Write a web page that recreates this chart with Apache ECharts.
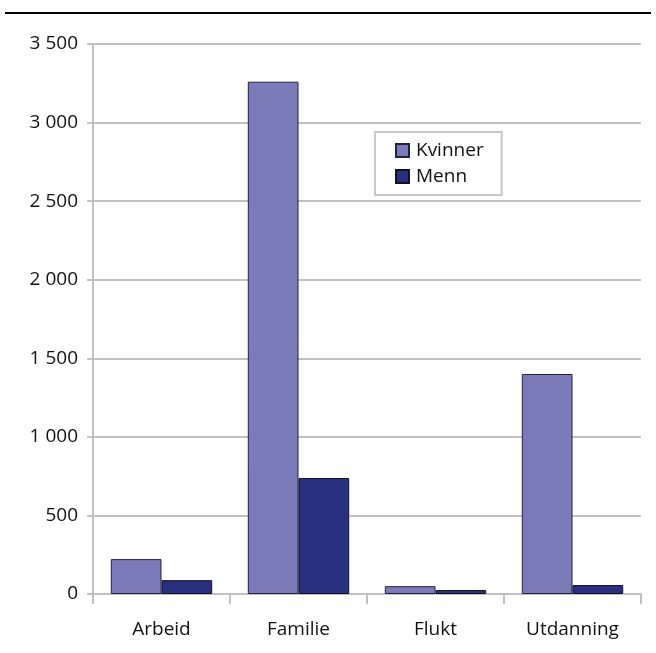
<!DOCTYPE html>
<html><head><meta charset="utf-8">
<script src="https://cdn.jsdelivr.net/npm/echarts@6/dist/echarts.min.js"></script>
<style>html,body{margin:0;padding:0;background:#fff}#c{width:656px;height:653px}</style>
</head><body><div id="c"></div>
<script>
const categories = ['Arbeid', 'Familie', 'Flukt', 'Utdanning'];
const kvinner = [222, 3260, 50, 1400];
const menn = [88, 738, 25, 57];
const seriesNames = ['Kvinner', 'Menn'];

const chart = echarts.init(document.getElementById('c'));
const font = 'Open Sans';
chart.setOption({
  animation: false,
  backgroundColor: '#fff',
  textStyle: { fontFamily: font },
  graphic: [{
    type: 'line', shape: { x1: 5, y1: 13, x2: 651, y2: 13 },
    style: { stroke: '#000', lineWidth: 2 }
  }],
  legend: {
    orient: 'vertical', left: 375, top: 132,
    padding: [9, 18, 9, 20],
    borderColor: '#c8c8c8', borderWidth: 2,
    itemWidth: 13, itemHeight: 13, itemGap: 7,
    textStyle: { fontFamily: font, fontSize: 19, color: '#111', padding: [0, 0, 0, 2] },
    data: seriesNames.map(n => ({ name: n, icon: 'rect' }))
  },
  grid: { left: 93, right: 15, top: 44, bottom: 59 },
  xAxis: {
    type: 'category', data: categories,
    axisLine: { lineStyle: { color: '#c0c0c0', width: 2 } },
    axisTick: { show: true, length: 10, lineStyle: { color: '#c0c0c0', width: 2 } },
    axisLabel: { fontFamily: font, fontSize: 19, color: '#111', margin: 26 }
  },
  yAxis: {
    type: 'value', min: 0, max: 3500, interval: 500,
    axisLine: { show: true, lineStyle: { color: '#c0c0c0', width: 2 } },
    axisTick: { show: true, length: 6, lineStyle: { color: '#c0c0c0', width: 2 } },
    splitLine: { lineStyle: { color: '#c0c0c0', width: 2 } },
    axisLabel: {
      fontFamily: font, fontSize: 19, color: '#111', margin: 15,
      formatter: v => String(v).replace(/\B(?=(\d{3})+(?!\d))/g, ' ')
    }
  },
  series: [
    { name: seriesNames[0], type: 'bar', data: kvinner, barGap: '0%', barCategoryGap: '26%',
      itemStyle: { color: '#7b7bba', borderColor: '#22223a', borderWidth: 1 } },
    { name: seriesNames[1], type: 'bar', data: menn,
      itemStyle: { color: '#29307f', borderColor: '#111122', borderWidth: 1 } }
  ]
});
</script></body></html>
